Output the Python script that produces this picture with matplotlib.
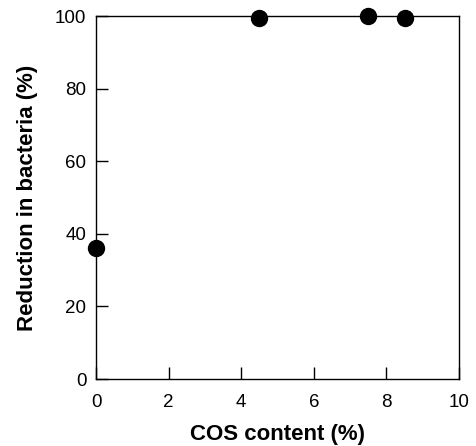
import matplotlib
matplotlib.use("Agg")
import matplotlib.pyplot as plt

cos_content = [0, 4.5, 7.5, 8.5]
reduction = [36, 99.5, 100, 99.5]
xticks = [0, 2, 4, 6, 8, 10]
yticks = [0, 20, 40, 60, 80, 100]

plt.rcParams['font.family'] = ['Liberation Sans', 'DejaVu Sans']
fig = plt.figure(figsize=(4.76, 4.46), dpi=100)
ax = fig.add_axes([0.2017, 0.1502, 0.7626, 0.8139])
ax.plot(cos_content, reduction, 'o', color='black', markersize=11.5, clip_on=False, zorder=5)
ax.set_xlim(0, 10)
ax.set_ylim(0, 100)
ax.set_xticks(xticks)
ax.set_yticks(yticks)
ax.tick_params(direction='in', length=8.5, width=1, labelsize=13.5)
ax.tick_params(axis='x', pad=10.5)
ax.tick_params(axis='y', pad=7)
for s in ax.spines.values():
    s.set_linewidth(1)
ax.set_xlabel('COS content (%)', fontsize=16, fontweight='bold', labelpad=9.5)
ax.set_ylabel('Reduction in bacteria (%)', fontsize=16, fontweight='bold', labelpad=12)
fig.savefig('out.png', dpi=100)
